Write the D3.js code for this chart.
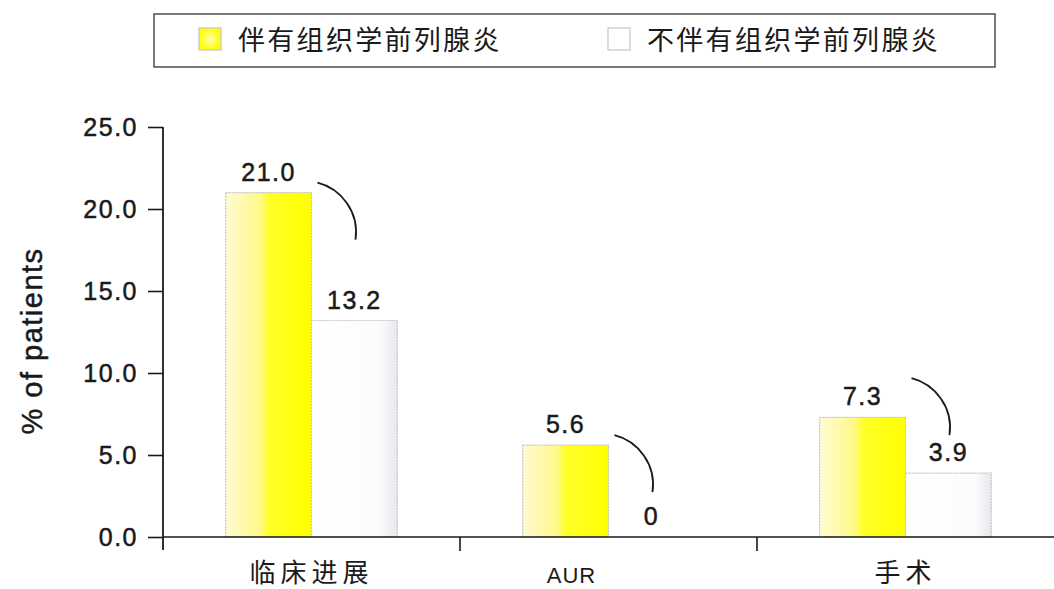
<!DOCTYPE html>
<html lang="zh">
<head>
<meta charset="utf-8">
<title>Prostatitis bar chart</title>
<script src="https://cdn.jsdelivr.net/npm/d3@7"></script>
<style>
  body { margin: 0; background: #fff; }
  text { font-family: "Liberation Sans", Arial, sans-serif; fill: #1a1a1a; }
  .cjk { font-family: "Noto Sans CJK SC", sans-serif; }
  .num { stroke: #1a1a1a; stroke-width: 0.5px; letter-spacing: 1.5px; }
</style>
</head>
<body>
<svg width="1054" height="589"></svg>
<script>

// data
var categories = ["临床进展", "AUR", "手术"];
var seriesNames = ["伴有组织学前列腺炎", "不伴有组织学前列腺炎"];
var withInflammation = [21.0, 5.6, 7.3];
var withoutInflammation = [13.2, 0, 3.9];
var valueLabels = [["21.0", "13.2"], ["5.6", "0"], ["7.3", "3.9"]];
var yTicks = [0, 5, 10, 15, 20, 25];

var svg = d3.select("svg");
var plotL = 163, plotR = 1054, plotT = 127, plotB = 537;

var defs = svg.append("defs");
var gy = defs.append("linearGradient").attr("id", "yel").attr("x1", "0").attr("x2", "1");
gy.append("stop").attr("offset", "0%").attr("stop-color", "#fffbd2");
gy.append("stop").attr("offset", "40%").attr("stop-color", "#fff98a");
gy.append("stop").attr("offset", "50%").attr("stop-color", "#ffff2a");
gy.append("stop").attr("offset", "100%").attr("stop-color", "#ffff00");
var gw = defs.append("linearGradient").attr("id", "wht").attr("x1", "0").attr("x2", "1");
gw.append("stop").attr("offset", "0%").attr("stop-color", "#ffffff");
gw.append("stop").attr("offset", "80%").attr("stop-color", "#fcfcfd");
gw.append("stop").attr("offset", "100%").attr("stop-color", "#e6e8ec");
var gl = defs.append("radialGradient").attr("id", "legyel");
gl.append("stop").attr("offset", "0%").attr("stop-color", "#ffffb0");
gl.append("stop").attr("offset", "100%").attr("stop-color", "#ffff00");

var x0 = d3.scaleBand().domain(categories).range([plotL, plotR]).padding(0);
var x1 = d3.scaleBand().domain(seriesNames).range([0, x0.bandwidth()]).paddingInner(0).paddingOuter(0.73);
var y = d3.scaleLinear().domain([0, 25]).range([plotB, plotT]);

var rows = categories.map(function(c, i) {
  return {cat: c, vals: [withInflammation[i], withoutInflammation[i]], labels: valueLabels[i]};
});

// bars
var grp = svg.selectAll(".grp").data(rows).enter().append("g")
    .attr("transform", function(d) { return "translate(" + x0(d.cat) + ",0)"; });

grp.selectAll("rect").data(function(d) {
    return d.vals.map(function(v, j) { return {s: seriesNames[j], v: v, j: j}; }).filter(function(e) { return e.v > 0; });
  }).enter().append("rect")
    .attr("x", function(d) { return x1(d.s); })
    .attr("y", function(d) { return y(d.v); })
    .attr("width", x1.bandwidth())
    .attr("height", function(d) { return y(0) - y(d.v); })
    .attr("fill", function(d) { return d.j === 0 ? "url(#yel)" : "url(#wht)"; })
    .attr("stroke", "#c4c6ca")
    .attr("stroke-width", 1.2)
    .attr("stroke-dasharray", "2,1");

// value labels
grp.selectAll(".val").data(function(d) {
    return d.vals.map(function(v, j) { return {s: seriesNames[j], v: v, t: d.labels[j]}; });
  }).enter().append("text")
    .attr("class", "num")
    .attr("x", function(d) { return x1(d.s) + x1.bandwidth() / 2; })
    .attr("y", function(d) { return y(d.v) - 12; })
    .attr("text-anchor", "middle")
    .style("font-size", "25px")
    .text(function(d) { return d.t; });

// curved connectors between the two bars of a group
grp.append("path")
    .attr("d", function(d) {
      var sx = x1(seriesNames[0]) + x1.bandwidth() + 6;
      var sy = Math.min(y(d.vals[0]) - 10, y(d.vals[1]) - 95);
      return "M" + sx + "," + sy + " C" + (sx + 24) + "," + (sy + 6) + " " + (sx + 42) + "," + (sy + 30) + " " + (sx + 38) + "," + (sy + 57);
    })
    .attr("fill", "none")
    .attr("stroke", "#1a1a1a")
    .attr("stroke-width", 1.8);

// y axis
var yAxis = svg.append("g")
    .attr("transform", "translate(" + plotL + ",0)")
    .call(d3.axisLeft(y).tickValues(yTicks).tickSize(15).tickPadding(10).tickFormat(d3.format(".1f")));
yAxis.select(".domain").remove();
yAxis.selectAll("line").attr("stroke", "#1a1a1a").attr("stroke-width", 1.6);
yAxis.selectAll("text").attr("class", "num").style("font-size", "25px")
    .style("font-family", "Liberation Sans, Arial, sans-serif").attr("fill", "#1a1a1a");
svg.append("line").attr("x1", plotL).attr("x2", plotL).attr("y1", y(25)).attr("y2", plotB + 13)
    .attr("stroke", "#1a1a1a").attr("stroke-width", 1.8);

// x axis
svg.append("line").attr("x1", plotL).attr("x2", plotR).attr("y1", plotB).attr("y2", plotB)
    .attr("stroke", "#1a1a1a").attr("stroke-width", 1.6);
svg.selectAll(".xt").data(categories.slice(1)).enter().append("line")
    .attr("x1", function(d) { return x0(d); }).attr("x2", function(d) { return x0(d); })
    .attr("y1", plotB).attr("y2", plotB + 14)
    .attr("stroke", "#1a1a1a").attr("stroke-width", 1.6);
svg.selectAll(".xl").data(categories).enter().append("text")
    .attr("class", function(d) { return d === "AUR" ? "" : "cjk"; })
    .attr("x", function(d) { return x0(d) + x0.bandwidth() / 2 - (d === "AUR" ? 37 : 0); })
    .attr("y", function(d) { return d === "AUR" ? 583 : 582; })
    .attr("text-anchor", "middle")
    .style("font-size", function(d) { return d === "AUR" ? "22px" : "26px"; })
    .style("letter-spacing", function(d) { return d === "AUR" ? "1px" : "5px"; })
    .text(function(d) { return d; });

// y title
svg.append("text")
    .attr("class", "num")
    .attr("transform", "translate(42,341) rotate(-90)")
    .attr("text-anchor", "middle")
    .style("font-size", "29px")
    .text("% of patients");

// legend
svg.append("rect").attr("x", 154).attr("y", 14).attr("width", 841).attr("height", 53)
    .attr("fill", "#fff").attr("stroke", "#333").attr("stroke-width", 1.3);
var legX = [199, 608];
var leg = svg.selectAll(".leg").data(seriesNames).enter().append("g")
    .attr("transform", function(d, i) { return "translate(" + legX[i] + ",28)"; });
leg.append("rect").attr("width", 22).attr("height", 22)
    .attr("fill", function(d, i) { return i === 0 ? "url(#legyel)" : "#fff"; })
    .attr("stroke", "#c4c6ca").attr("stroke-width", 1.2);
leg.append("text").attr("class", "cjk").attr("x", 39).attr("y", 22)
    .style("font-size", "27px").style("letter-spacing", "2.3px").text(function(d) { return d; });

</script>
</body>
</html>
